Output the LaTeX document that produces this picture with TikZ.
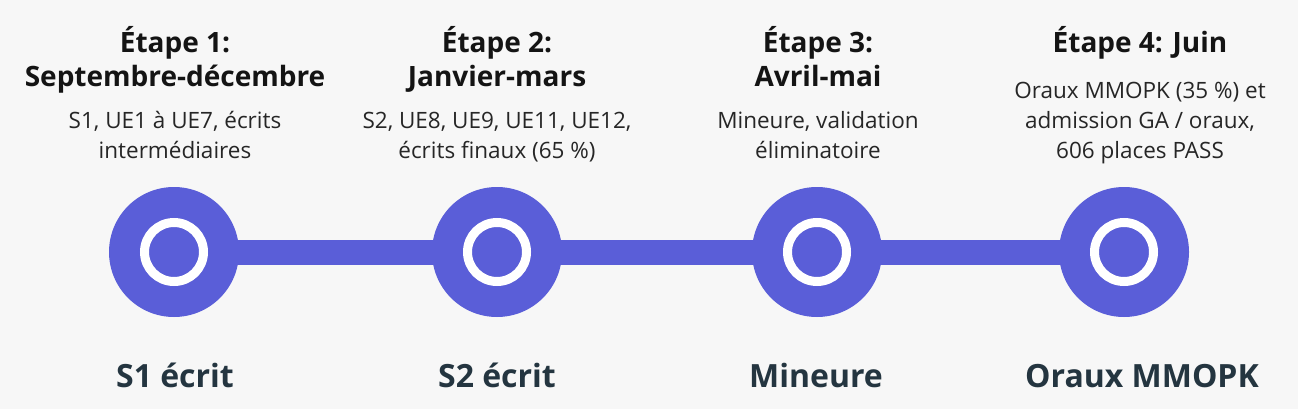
\documentclass[tikz,border=0pt]{standalone}
\usepackage{fontspec}
\setmainfont{Open Sans}
\usetikzlibrary{positioning,backgrounds}

\definecolor{stepblue}{HTML}{5A5ED8}
\definecolor{tagslate}{HTML}{243540}
\definecolor{paper}{HTML}{F7F7F7}

\begin{document}
\begin{tikzpicture}[x=1pt, y=-1pt]
        \tikzset{
                dot/.style  = {circle, fill=stepblue, minimum size=130pt, inner sep=0pt},
                ring/.style = {circle, draw=white, line width=9pt, minimum size=59pt, inner sep=0pt},
                head/.style = {anchor=base, align=center, text=black!92,
                               font=\fontsize{28}{34}\selectfont\bfseries},
                desc/.style = {anchor=base, align=center, text=black!85,
                               font=\fontsize{22.5}{30}\selectfont},
                tag/.style  = {anchor=base, text=tagslate,
                               font=\fontsize{32}{38}\selectfont\bfseries},
                bar/.style  = {draw=stepblue, line width=25pt}
        }
        \useasboundingbox (0,0) rectangle (1298,409);

        % the four milestones
        \node[dot] (c1) at (174,252) {};
        \node[dot] (c2) at (497,252) {};
        \node[dot] (c3) at (817,252) {};
        \node[dot] (c4) at (1124,252) {};
        \foreach \i in {1,...,4} {
                \node[ring] (r\i) at (c\i) {};
        }

        % page, and bars between the milestones, behind the dots
        \begin{scope}[on background layer]
                \fill[paper] (0,0) rectangle (1298,409);
                \foreach \i/\j in {1/2,2/3,3/4} {
                        \draw[bar] (c\i.center) -- (c\j.center);
                }
        \end{scope}

        % headings (base = last line)
        \node[head] (h1) at (175,87) {Étape 1:\\Septembre-décembre};
        \node[head] (h2) at (497,87) {Étape 2:\\Janvier-mars};
        \node[head] (h3) at (818,87) {Étape 3:\\Avril-mai};
        \node[head] (h4) at (1140,53) {Étape 4: Juin};

        % details
        \node[desc] (d1) at (175,158) {S1, UE1 à UE7, écrits\\intermédiaires};
        \node[desc] (d2) at (497,158) {S2, UE8, UE9, UE11, UE12,\\écrits finaux (65 \%)};
        \node[desc] (d3) at (818,158) {Mineure, validation\\éliminatoire};
        \node[desc] (d4) at (1140,158) {Oraux MMOPK (35 \%) et\\admission GA / oraux,\\606 places PASS};

        % labels under the dots
        \node[tag] (t1) at (175,387) {S1 écrit};
        \node[tag] (t2) at (497,387) {S2 écrit};
        \node[tag] (t3) at (816,387) {Mineure};
        \node[tag] (t4) at (1142,387) {Oraux MMOPK};
\end{tikzpicture}
\end{document}
